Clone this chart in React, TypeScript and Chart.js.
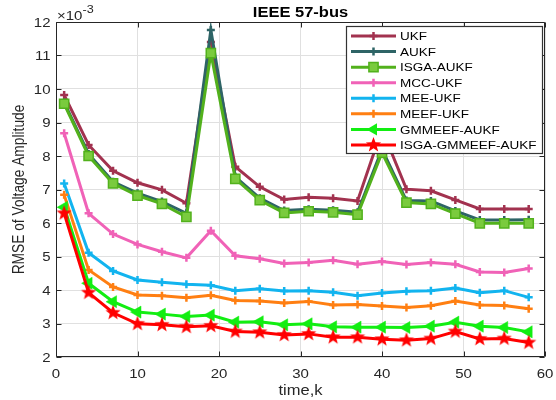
import React, { useEffect, useRef } from 'react';
import { Chart, registerables } from 'chart.js';

Chart.register(...registerables);

// ---- data (RMSE values in units of 1e-3) ----
const timeSteps = [1, 4, 7, 10, 13, 16, 19, 22, 25, 28, 31, 34, 37, 40, 43, 46, 49, 52, 55, 58];
const ukf = [9.82, 8.33, 7.56, 7.2, 6.99, 6.59, 11.4, 7.68, 7.08, 6.7, 6.77, 6.74, 6.66, 8.8, 7.01, 6.96, 6.69, 6.42, 6.42, 6.42];
const aukf = [9.6, 8.06, 7.23, 6.89, 6.64, 6.29, 11.76, 7.38, 6.74, 6.37, 6.41, 6.38, 6.32, 8.2, 6.67, 6.66, 6.36, 6.09, 6.09, 6.1];
const isgaAukf = [9.56, 8.0, 7.18, 6.82, 6.57, 6.18, 11.07, 7.32, 6.68, 6.3, 6.35, 6.32, 6.25, 8.1, 6.61, 6.57, 6.28, 5.99, 5.99, 5.99];
const mccUkf = [8.68, 6.29, 5.67, 5.36, 5.14, 4.96, 5.77, 5.02, 4.93, 4.79, 4.82, 4.89, 4.77, 4.85, 4.76, 4.82, 4.77, 4.54, 4.52, 4.64];
const meeUkf = [7.18, 5.11, 4.57, 4.3, 4.23, 4.17, 4.14, 3.98, 4.04, 3.97, 3.98, 3.93, 3.83, 3.91, 3.96, 3.98, 4.06, 3.92, 3.98, 3.78];
const meefUkf = [6.84, 4.6, 4.09, 3.85, 3.83, 3.77, 3.84, 3.69, 3.67, 3.61, 3.66, 3.55, 3.57, 3.52, 3.48, 3.53, 3.67, 3.55, 3.54, 3.44];
const gmmeefAukf = [6.47, 4.2, 3.65, 3.34, 3.28, 3.21, 3.25, 3.04, 3.05, 2.96, 2.99, 2.9, 2.89, 2.89, 2.88, 2.92, 3.04, 2.92, 2.88, 2.75];
const isgaGmmeefAukf = [6.29, 3.92, 3.32, 2.99, 2.96, 2.9, 2.93, 2.76, 2.74, 2.66, 2.69, 2.59, 2.59, 2.53, 2.5, 2.55, 2.76, 2.54, 2.55, 2.43];

const seriesLabels = ['UKF', 'AUKF', 'ISGA-AUKF', 'MCC-UKF', 'MEE-UKF', 'MEEF-UKF', 'GMMEEF-AUKF', 'ISGA-GMMEEF-AUKF'];
const seriesValues = [ukf, aukf, isgaAukf, mccUkf, meeUkf, meefUkf, gmmeefAukf, isgaGmmeefAukf];

const xTicks = [0, 10, 20, 30, 40, 50, 60];
const yTicks = [2, 3, 4, 5, 6, 7, 8, 9, 10, 11, 12];

const titleText = 'IEEE 57-bus';
const xLabel = 'time,k';
const yLabel = 'RMSE of Voltage Amplitude';
const expBase = '\u00d710';
const expPower = '-3';

// ---- styles ----
type Marker = 'cross' | 'square' | 'triangle' | 'star';
const seriesStyles: { color: string; fill?: string; marker: Marker }[] = [
  { color: '#A2324F', marker: 'cross' },
  { color: '#2E6466', marker: 'cross' },
  { color: '#52B11C', fill: '#7ACB3E', marker: 'square' },
  { color: '#F062B7', marker: 'cross' },
  { color: '#12B4EF', marker: 'cross' },
  { color: '#FF7F12', marker: 'cross' },
  { color: '#12EE12', marker: 'triangle' },
  { color: '#FF0000', marker: 'star' },
];

const FONT = '"Liberation Sans", Arial, Helvetica, sans-serif';
const SX = 1.2;
const TEXT_COLOR = '#262626';

function makeStar(color: string, outer: number): HTMLCanvasElement {
  const c = document.createElement('canvas');
  const size = Math.ceil(outer * 2 + 2);
  c.width = size;
  c.height = size;
  const g = c.getContext('2d')!;
  drawStar(g, size / 2, size / 2, outer, color);
  return c;
}

function drawStar(g: CanvasRenderingContext2D, cx: number, cy: number, outer: number, color: string) {
  const inner = outer * 0.42;
  g.beginPath();
  for (let k = 0; k < 10; k++) {
    const r = k % 2 === 0 ? outer : inner;
    const a = -Math.PI / 2 + (k * Math.PI) / 5;
    const px = cx + r * Math.cos(a);
    const py = cy + r * Math.sin(a);
    if (k === 0) g.moveTo(px, py);
    else g.lineTo(px, py);
  }
  g.closePath();
  g.fillStyle = color;
  g.fill();
}

function sText(
  ctx: CanvasRenderingContext2D,
  text: string,
  x: number,
  y: number,
  font: string,
  align: CanvasTextAlign,
  baseline: CanvasTextBaseline,
  color: string,
  sx = SX
) {
  ctx.save();
  ctx.translate(x, y);
  ctx.scale(sx, 1);
  ctx.font = font;
  ctx.textAlign = align;
  ctx.textBaseline = baseline;
  ctx.fillStyle = color;
  ctx.fillText(text, 0, 0);
  ctx.restore();
}

function drawMarker(ctx: CanvasRenderingContext2D, st: { color: string; fill?: string; marker: Marker }, x: number, y: number) {
  ctx.save();
  if (st.marker === 'cross') {
    ctx.strokeStyle = st.color;
    ctx.lineWidth = 2.5;
    ctx.beginPath();
    ctx.moveTo(x - 4, y);
    ctx.lineTo(x + 4, y);
    ctx.moveTo(x, y - 4);
    ctx.lineTo(x, y + 4);
    ctx.stroke();
  } else if (st.marker === 'square') {
    const s = 6.5 * Math.SQRT1_2;
    ctx.fillStyle = st.fill || st.color;
    ctx.strokeStyle = st.color;
    ctx.lineWidth = 1.5;
    ctx.beginPath();
    ctx.rect(x - s, y - s, 2 * s, 2 * s);
    ctx.fill();
    ctx.stroke();
  } else if (st.marker === 'triangle') {
    const r = 7;
    let a = -Math.PI / 2;
    ctx.beginPath();
    for (let k = 0; k < 3; k++) {
      const px = x + Math.sin(a) * r;
      const py = y - Math.cos(a) * r;
      if (k === 0) ctx.moveTo(px, py);
      else ctx.lineTo(px, py);
      a += (2 * Math.PI) / 3;
    }
    ctx.closePath();
    ctx.fillStyle = st.color;
    ctx.fill();
  } else {
    drawStar(ctx, x, y, 8, st.color);
  }
  ctx.restore();
}

const decorPlugin = {
  id: 'decor',
  afterDraw(chart: any) {
    const ctx: CanvasRenderingContext2D = chart.ctx;
    const { left, right, top, bottom } = chart.chartArea;
    const xs = chart.scales.x;
    const ys = chart.scales.y;
    const L = Math.round(left) + 0.5;
    const R = Math.round(right) - 0.5;
    const T = Math.round(top) + 0.5;
    const B = Math.round(bottom) - 0.5;

    // box
    ctx.save();
    ctx.strokeStyle = TEXT_COLOR;
    ctx.lineWidth = 1;
    ctx.beginPath();
    ctx.rect(L, T, R - L, B - T);
    ctx.stroke();
    // inward ticks
    ctx.beginPath();
    xTicks.forEach((v) => {
      const px = Math.round(xs.getPixelForValue(v)) + 0.5;
      ctx.moveTo(px, B);
      ctx.lineTo(px, B - 5);
      ctx.moveTo(px, T);
      ctx.lineTo(px, T + 5);
    });
    yTicks.forEach((v) => {
      const py = Math.round(ys.getPixelForValue(v)) + 0.5;
      ctx.moveTo(L, py);
      ctx.lineTo(L + 5, py);
      ctx.moveTo(R, py);
      ctx.lineTo(R - 5, py);
    });
    ctx.stroke();
    ctx.restore();

    // tick labels
    const tickFont = `12.5px ${FONT}`;
    xTicks.forEach((v) => {
      sText(ctx, String(v), xs.getPixelForValue(v), 378, tickFont, 'center', 'alphabetic', TEXT_COLOR);
    });
    yTicks.forEach((v) => {
      sText(ctx, String(v), left - 5.5, ys.getPixelForValue(v) + 4.5, tickFont, 'right', 'alphabetic', TEXT_COLOR);
    });

    // exponent
    sText(ctx, expBase, left + 1, 20, tickFont, 'left', 'alphabetic', TEXT_COLOR);
    ctx.save();
    ctx.font = tickFont;
    const w = ctx.measureText(expBase).width * SX;
    ctx.restore();
    sText(ctx, expPower, left + 1 + w, 13, `10.5px ${FONT}`, 'left', 'alphabetic', TEXT_COLOR);

    // title
    sText(ctx, titleText, (left + right) / 2, 16.5, `bold 13.75px ${FONT}`, 'center', 'alphabetic', '#000');

    // x label
    sText(ctx, xLabel, (left + right) / 2, 395, `13.75px ${FONT}`, 'center', 'alphabetic', TEXT_COLOR);

    // y label (rotated)
    ctx.save();
    ctx.translate(24, (top + bottom) / 2);
    ctx.rotate(-Math.PI / 2);
    ctx.scale(1, SX);
    ctx.font = `13.75px ${FONT}`;
    ctx.textAlign = 'center';
    ctx.textBaseline = 'alphabetic';
    ctx.fillStyle = TEXT_COLOR;
    ctx.fillText(yLabel, 0, 0);
    ctx.restore();

    // legend
    const bx = 346.5;
    const by = 26.5;
    const bw = 196;
    const bh = 127;
    ctx.save();
    ctx.fillStyle = '#FFFFFF';
    ctx.fillRect(bx, by, bw, bh);
    ctx.strokeStyle = '#333333';
    ctx.lineWidth = 1.2;
    ctx.strokeRect(bx, by, bw, bh);
    ctx.restore();
    const legendFont = `11.25px ${FONT}`;
    seriesLabels.forEach((label, i) => {
      const st = seriesStyles[i];
      const ry = 36 + i * 15.57;
      ctx.save();
      ctx.strokeStyle = st.color;
      ctx.lineWidth = 3;
      ctx.beginPath();
      ctx.moveTo(351, ry);
      ctx.lineTo(396, ry);
      ctx.stroke();
      ctx.restore();
      drawMarker(ctx, st, 373.5, ry);
      sText(ctx, label, 400, ry + 4.2, legendFont, 'left', 'alphabetic', '#000');
    });
  },
};

export default function App() {
  const ref = useRef<HTMLCanvasElement | null>(null);

  useEffect(() => {
    if (!ref.current) return;
    const star = makeStar('#FF0000', 8);
    const datasets = seriesLabels.map((label, i) => {
      const st = seriesStyles[i];
      const ds: any = {
        label,
        data: timeSteps.map((t, j) => ({ x: t, y: seriesValues[i][j] })),
        borderColor: st.color,
        backgroundColor: st.fill || st.color,
        borderWidth: 3,
        tension: 0,
        order: -i,
        pointBorderColor: st.color,
        pointBackgroundColor: st.fill || st.color,
        pointHoverRadius: 0,
      };
      if (st.marker === 'cross') {
        ds.pointStyle = 'cross';
        ds.pointRadius = 4;
        ds.pointBorderWidth = 2.5;
      } else if (st.marker === 'square') {
        ds.pointStyle = 'rect';
        ds.pointRadius = 6.5;
        ds.pointBorderWidth = 1.5;
      } else if (st.marker === 'triangle') {
        ds.pointStyle = 'triangle';
        ds.pointRotation = -90;
        ds.pointRadius = 7;
        ds.pointBorderWidth = 0.5;
      } else {
        ds.pointStyle = star;
        ds.pointRadius = 8;
      }
      return ds;
    });

    const chart = new Chart(ref.current, {
      type: 'line',
      data: { datasets },
      options: {
        animation: false,
        responsive: false,
        devicePixelRatio: 1,
        layout: { padding: { top: 22, right: 8, left: 0, bottom: 0 } },
        plugins: {
          legend: { display: false },
          title: { display: false },
          tooltip: { enabled: false },
        },
        events: [],
        scales: {
          x: {
            type: 'linear',
            min: 0,
            max: 60,
            ticks: { display: false, stepSize: 10 },
            grid: { color: '#E0E0E0', lineWidth: 1, drawTicks: false },
            border: { display: false },
            afterFit: (s: any) => {
              s.height = 43;
            },
          },
          y: {
            type: 'linear',
            min: 2,
            max: 12,
            ticks: { display: false, stepSize: 1 },
            grid: { color: '#E0E0E0', lineWidth: 1, drawTicks: false },
            border: { display: false },
            afterFit: (s: any) => {
              s.width = 56;
            },
          },
        },
      } as any,
      plugins: [decorPlugin],
    });
    return () => chart.destroy();
  }, []);

  return (
    <div style={{ position: 'fixed', left: 0, top: 0, width: 556, height: 400, background: '#fff' }}>
      <canvas ref={ref} width={556} height={400} style={{ display: 'block', width: 556, height: 400 }} />
    </div>
  );
}
